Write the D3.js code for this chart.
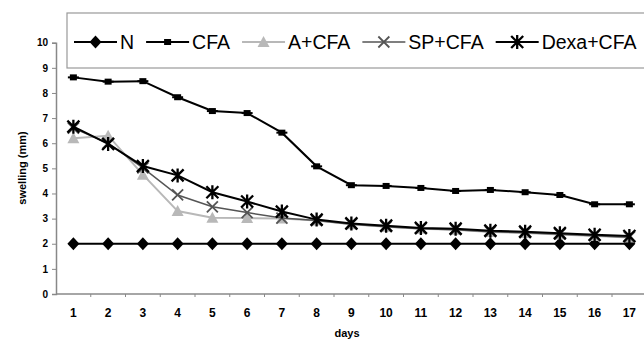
<!DOCTYPE html>
<html>
<head>
<meta charset="utf-8">
<script src="https://cdn.jsdelivr.net/npm/d3@7"></script>
<style>
  body { margin: 0; background: #fff; }
  svg { display: block; font-family: "Liberation Sans", Arial, sans-serif; }
</style>
</head>
<body>
<script>
// swelling (mm) per day
const days = [1, 2, 3, 4, 5, 6, 7, 8, 9, 10, 11, 12, 13, 14, 15, 16, 17];
const yTicks = [0, 1, 2, 3, 4, 5, 6, 7, 8, 9, 10];
const seriesNames = ["N", "CFA", "A+CFA", "SP+CFA", "Dexa+CFA"];
const nVals = [2, 2, 2, 2, 2, 2, 2, 2, 2, 2, 2, 2, 2, 2, 2, 2, 2];
const cfaVals = [8.62, 8.45, 8.47, 7.83, 7.28, 7.2, 6.42, 5.08, 4.33, 4.3, 4.22, 4.1, 4.14, 4.05, 3.94, 3.57, 3.57];
const aVals = [6.2, 6.3, 4.75, 3.3, 3.03, 3.02, 3.0, 2.92, 2.78, 2.68, 2.6, 2.56, 2.47, 2.43, 2.37, 2.31, 2.25];
const spVals = [6.6, 6.0, 5.02, 3.94, 3.47, 3.24, 3.02, 2.92, 2.78, 2.68, 2.6, 2.56, 2.48, 2.44, 2.38, 2.32, 2.26];
const dexaVals = [6.66, 5.97, 5.09, 4.72, 4.05, 3.68, 3.28, 2.96, 2.81, 2.72, 2.63, 2.6, 2.52, 2.48, 2.42, 2.36, 2.31];

const width = 644, height = 341;

const series = [
  { name: seriesNames[0], values: nVals, color: "#000", lw: 2, marker: "diamond" },
  { name: seriesNames[1], values: cfaVals, color: "#000", lw: 2, marker: "square" },
  { name: seriesNames[2], values: aVals, color: "#b8b8b8", lw: 2, marker: "triangle" },
  { name: seriesNames[3], values: spVals, color: "#555", lw: 1.5, marker: "cross" },
  { name: seriesNames[4], values: dexaVals, color: "#000", lw: 2, marker: "star" }
];

const svg = d3.select("body").append("svg")
  .attr("width", width)
  .attr("height", height);

const x = d3.scaleBand()
  .domain(days)
  .range([56, 56 + 17 * 34.75]);

const y = d3.scaleLinear()
  .domain([0, 10])
  .range([294, 42.7]);

const axisColor = "#888";

// y axis
const yAxis = svg.append("g")
  .attr("transform", "translate(56,0)")
  .call(d3.axisLeft(y).tickValues(yTicks).tickSize(4).tickPadding(4).tickFormat(d3.format("d")));
yAxis.select(".domain").attr("stroke", axisColor).attr("stroke-width", 1.5);
yAxis.selectAll(".tick line").attr("stroke", axisColor);
yAxis.selectAll(".tick text")
  .attr("fill", "#000")
  .style("font-size", "10px")
  .style("font-weight", "bold");

// x axis: ticks sit between the day categories
const xAxis = svg.append("g")
  .attr("transform", "translate(0,294)");
xAxis.append("line")
  .attr("x1", x.range()[0]).attr("x2", width + 5)
  .attr("stroke", axisColor).attr("stroke-width", 1.5);
xAxis.selectAll(".xtick")
  .data(days.slice(1))
  .join("line")
  .attr("x1", d => x(d)).attr("x2", d => x(d))
  .attr("y1", 0).attr("y2", 3)
  .attr("stroke", axisColor);
xAxis.selectAll(".xlab")
  .data(days)
  .join("text")
  .attr("x", d => x(d) + x.bandwidth() / 2)
  .attr("y", 23)
  .attr("text-anchor", "middle")
  .style("font-size", "12px")
  .style("font-weight", "bold")
  .text(d => d);

svg.append("text")
  .attr("x", 347)
  .attr("y", 337)
  .attr("text-anchor", "middle")
  .style("font-size", "11px")
  .style("font-weight", "bold")
  .text("days");

svg.append("text")
  .attr("transform", "translate(26,168) rotate(-90)")
  .attr("text-anchor", "middle")
  .style("font-size", "11px")
  .style("font-weight", "bold")
  .text("swelling (mm)");

// marker drawing
function drawMarker(g, type, color) {
  if (type === "diamond") {
    g.append("path").attr("d", "M0,-6.5L6,0L0,6.5L-6,0Z").attr("fill", color);
  } else if (type === "square") {
    g.append("rect").attr("x", -3.5).attr("y", -3).attr("width", 7).attr("height", 6).attr("fill", color);
    g.append("line").attr("x1", -5.5).attr("x2", 5.5).attr("stroke", color).attr("stroke-width", 2);
  } else if (type === "triangle") {
    g.append("path").attr("d", "M0,-6L6,5L-6,5Z").attr("fill", color);
  } else if (type === "cross") {
    g.append("path").attr("d", "M-5.5,-5.5L5.5,5.5M-5.5,5.5L5.5,-5.5").attr("stroke", color).attr("stroke-width", 1.8);
  } else if (type === "star") {
    g.append("path").attr("d", "M-6,-6L6,6M-6,6L6,-6M0,-7L0,7").attr("stroke", color).attr("stroke-width", 2.3);
  }
}

const line = d3.line()
  .x((d, i) => x(days[i]) + x.bandwidth() / 2)
  .y(d => y(d));

const plot = svg.append("g");
series.forEach(s => {
  plot.append("path")
    .datum(s.values)
    .attr("d", line)
    .attr("fill", "none")
    .attr("stroke", s.color)
    .attr("stroke-width", s.lw);
  s.values.forEach((v, i) => {
    const g = plot.append("g")
      .attr("transform", "translate(" + (x(days[i]) + x.bandwidth() / 2) + "," + y(v) + ")");
    drawMarker(g, s.marker, s.color);
  });
});

// legend box
svg.append("rect")
  .attr("x", 67).attr("y", 13)
  .attr("width", 600).attr("height", 55)
  .attr("fill", "#fff")
  .attr("stroke", "#999").attr("stroke-width", 1.2);

const legend = svg.append("g").attr("transform", "translate(74,42)");
let lx = 0;
series.forEach(s => {
  const g = legend.append("g").attr("transform", "translate(" + lx + ",0)");
  g.append("line")
    .attr("x1", 0).attr("x2", 43)
    .attr("stroke", s.color).attr("stroke-width", s.lw);
  drawMarker(g.append("g").attr("transform", "translate(21.5,0)"), s.marker, s.color);
  const t = g.append("text")
    .attr("x", 46)
    .attr("dy", "0.36em")
    .style("font-size", "19.5px")
    .text(s.name);
  lx += 46 + t.node().getComputedTextLength() + 12;
});
</script>
</body>
</html>
